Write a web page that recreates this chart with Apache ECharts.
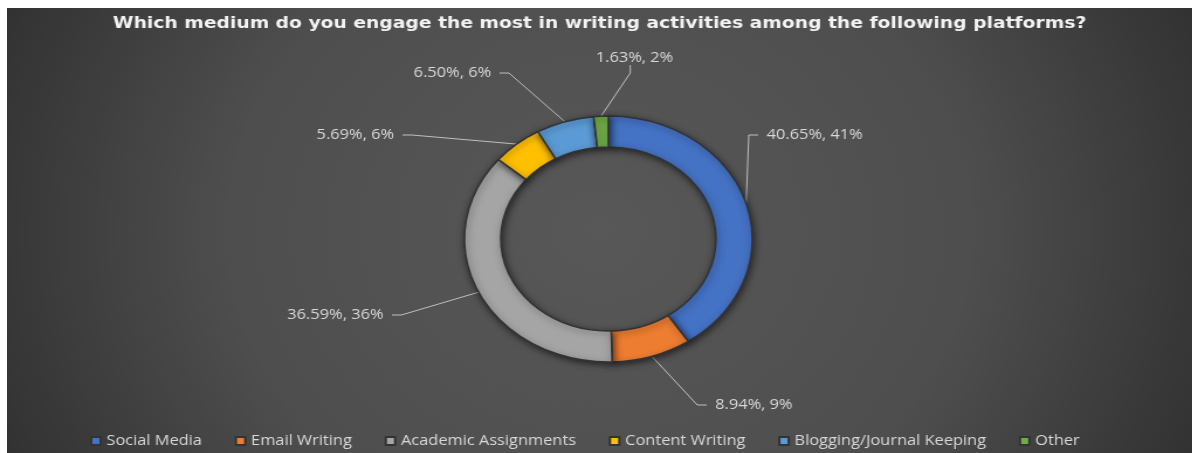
<!DOCTYPE html>
<html>
<head>
<meta charset="utf-8">
<script src="https://cdn.jsdelivr.net/npm/echarts@6/dist/echarts.min.js"></script>
<style>
  html, body { margin: 0; padding: 0; background: #ffffff; width: 1192px; height: 453px; overflow: hidden; }
  /* the original picture is stretched sideways, so the chart is drawn narrower and widened */
  #chart { position: absolute; left: 7px; top: 8px; width: 1013px; height: 445px;
           transform: scaleX(1.17); transform-origin: 0 0; }
</style>
</head>
<body>
<div id="chart"></div>
<script>
// categories and shares (123 respondents)
var categories = ['Social Media', 'Email Writing', 'Academic Assignments', 'Content Writing', 'Blogging/Journal Keeping', 'Other'];
var percents = [40.65, 8.94, 36.59, 5.69, 6.50, 1.63];
var rounded = [41, 9, 36, 6, 6, 2];
var colors = ['#4472C4', '#ED7D31', '#A5A5A5', '#FFC000', '#5B9BD5', '#70AD47'];

// where each data label sits, like in the excel chart
var labelPos = [
    { x: 642, y: 127, align: 'left' },
    { x: 598, y: 397, align: 'left' },
    { x: 329, y: 307, align: 'right' },
    { x: 338, y: 127, align: 'right' },
    { x: 421, y: 65, align: 'right' },
    { x: 496, y: 50, align: 'left' }
];

var chart = echarts.init(document.getElementById('chart'));

var pieData = [];
for (var i = 0; i < categories.length; i++) {
    pieData.push({
        name: categories[i],
        value: percents[i],
        rounded: rounded[i],
        itemStyle: { color: colors[i] }
    });
}

var option = {
    backgroundColor: {
        type: 'radial', x: 0.5, y: 0.5, r: 1.3,
        colorStops: [
            { offset: 0, color: '#585858' },
            { offset: 0.55, color: '#4e4e4e' },
            { offset: 1, color: '#2f2f2f' }
        ]
    },
    animation: false,
    title: {
        text: 'Which medium do you engage the most in writing activities among the following platforms?',
        left: 'center',
        top: 3,
        textStyle: {
            color: '#f2f2f2',
            fontSize: 16,
            fontWeight: 'bold',
            fontFamily: 'DejaVu Sans'
        }
    },
    legend: {
        bottom: 0,
        left: 66,
        itemWidth: 8,
        itemHeight: 8,
        itemGap: 28,
        icon: 'rect',
        textStyle: { color: '#d9d9d9', fontSize: 14, fontFamily: 'Open Sans' },
        data: categories
    },
    series: [{
        type: 'pie',
        center: [514, 231],
        radius: [92, 123],
        startAngle: 90,
        clockwise: true,
        avoidLabelOverlap: false,
        itemStyle: {
            borderColor: '#333333',
            borderWidth: 1.5,
            shadowBlur: 6,
            shadowColor: 'rgba(0,0,0,0.55)',
            shadowOffsetX: 1,
            shadowOffsetY: 2
        },
        label: {
            show: true,
            position: 'outside',
            color: '#d9d9d9',
            fontSize: 14,
            fontFamily: 'Open Sans',
            formatter: function (p) {
                var txt = p.value.toFixed(2) + '%, ' + p.data.rounded + '%';
                // a little space between leader line and text
                return labelPos[p.dataIndex].align == 'left' ? '  ' + txt : txt + '  ';
            }
        },
        labelLine: {
            show: true,
            length: 30,
            length2: 8,
            lineStyle: { color: '#bfbfbf', width: 1 }
        },
        labelLayout: function (params) {
            var p = labelPos[params.dataIndex];
            return { x: p.x, y: p.y, align: p.align, verticalAlign: 'middle' };
        },
        data: pieData
    }]
};
chart.setOption(option);
</script>
</body>
</html>
